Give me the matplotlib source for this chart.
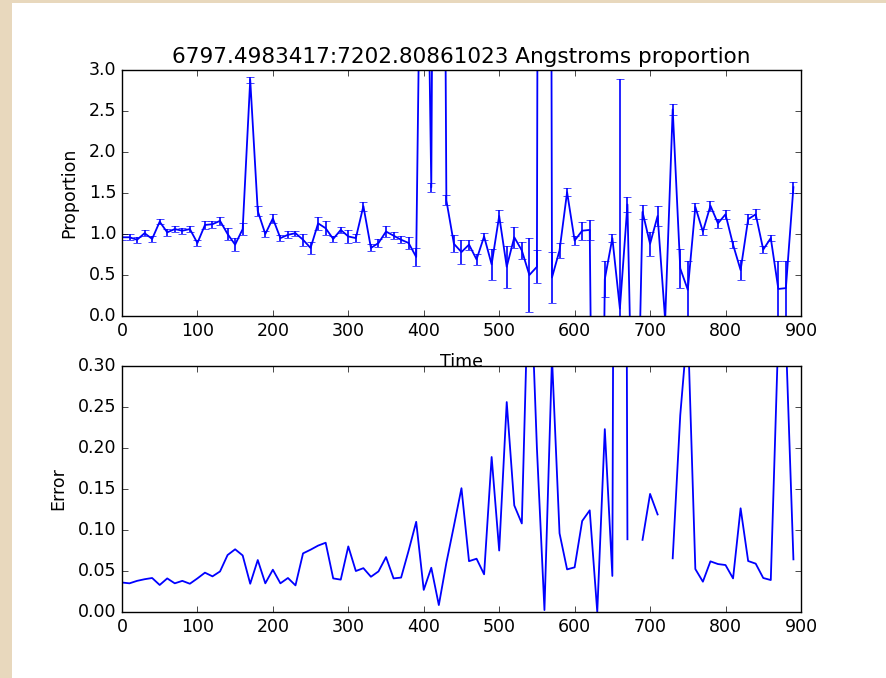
import numpy as np
import matplotlib
matplotlib.use("Agg")
import matplotlib.pyplot as plt
from matplotlib.patches import Rectangle

# sample times (every 10 units)
time = np.arange(0, 900, 10)

proportion = [
    0.96, 0.96, 0.93, 1.01, 0.94, 1.15, 1.02, 1.06, 1.04, 1.06,
    0.89, 1.11, 1.12, 1.16, 1.00, 0.87, 1.06, 2.88, 1.28, 1.00,
    1.19, 0.95, 0.99, 1.01, 0.93, 0.83, 1.13, 1.07, 0.94, 1.05,
    0.97, 0.95, 1.34, 0.83, 0.89, 1.03, 0.98, 0.93, 0.89, 0.72,
    8.0, 1.57, 18.0, 1.41, 0.88, 0.78, 0.87, 0.69, 0.97, 0.63,
    1.22, 0.60, 0.96, 0.80, 0.50, 0.60, 40.0, 0.47, 0.80, 1.51,
    0.92, 1.04, 1.05, -8.0, 0.45, 0.95, 0.09, 1.36, -3.0, 1.27,
    0.88, 1.22, -0.05, 2.52, 0.58, 0.32, 1.33, 1.03, 1.345, 1.13,
    1.24, 0.87, 0.56, 1.18, 1.24, 0.81, 0.95, 0.33, 0.34, 1.57,
]

error = [
    0.036, 0.035, 0.038, 0.040, 0.0415, 0.033, 0.041, 0.035, 0.038, 0.0345,
    0.041, 0.048, 0.0435, 0.0495, 0.0695, 0.0765, 0.069, 0.0345, 0.0634, 0.035,
    0.0516, 0.035, 0.0415, 0.0325, 0.0715, 0.076, 0.081, 0.0845, 0.041, 0.0395,
    0.080, 0.050, 0.0535, 0.043, 0.0495, 0.067, 0.041, 0.042, 0.075, 0.110,
    0.027, 0.054, 0.0085, 0.060, 0.105, 0.151, 0.062, 0.065, 0.046, 0.189,
    0.075, 0.256, 0.130, 0.108, 0.45, 0.20, 0.0024, 0.31, 0.096, 0.052,
    0.0545, 0.111, 0.124, 0.0, 0.223, 0.044, 2.8, 0.0887, np.nan, 0.088,
    0.144, 0.119, np.nan, 0.0655, 0.24, 0.35, 0.0524, 0.037, 0.0618, 0.0585,
    0.0573, 0.041, 0.1265, 0.0622, 0.059, 0.0415, 0.039, 0.34, 0.335, 0.0642,
]

title = "6797.4983417:7202.80861023 Angstroms proportion"

plt.style.use("classic")
plt.rcParams["font.size"] = 12.5

fig = plt.figure(figsize=(8.87, 6.78), dpi=100, facecolor="#e8d8bd")
fig.add_artist(Rectangle((12 / 887, 0), 875 / 887, 675 / 678,
                         transform=fig.transFigure, facecolor="white",
                         edgecolor="none", zorder=0))

ax1 = fig.add_axes([0.1375, 0.5339, 0.7655, 0.3629])
ax1.errorbar(time, proportion, yerr=error, color="b", ecolor="b",
             capsize=3, linewidth=1.3, elinewidth=1.2)
ax1.set_xlim(0, 900)
ax1.set_ylim(0, 3)
ax1.set_title(title, fontsize=15.5)
ax1.set_xlabel("Time", labelpad=10)
ax1.set_ylabel("Proportion", labelpad=8)

ax2 = fig.add_axes([0.1375, 0.0973, 0.7655, 0.3629])
ax2.plot(time, error, color="b", linewidth=1.3)
ax2.set_xlim(0, 900)
ax2.set_ylim(0, 0.3)
ax2.set_ylabel("Error", labelpad=8)

fig.savefig("out.png", dpi=100, facecolor=fig.get_facecolor())
